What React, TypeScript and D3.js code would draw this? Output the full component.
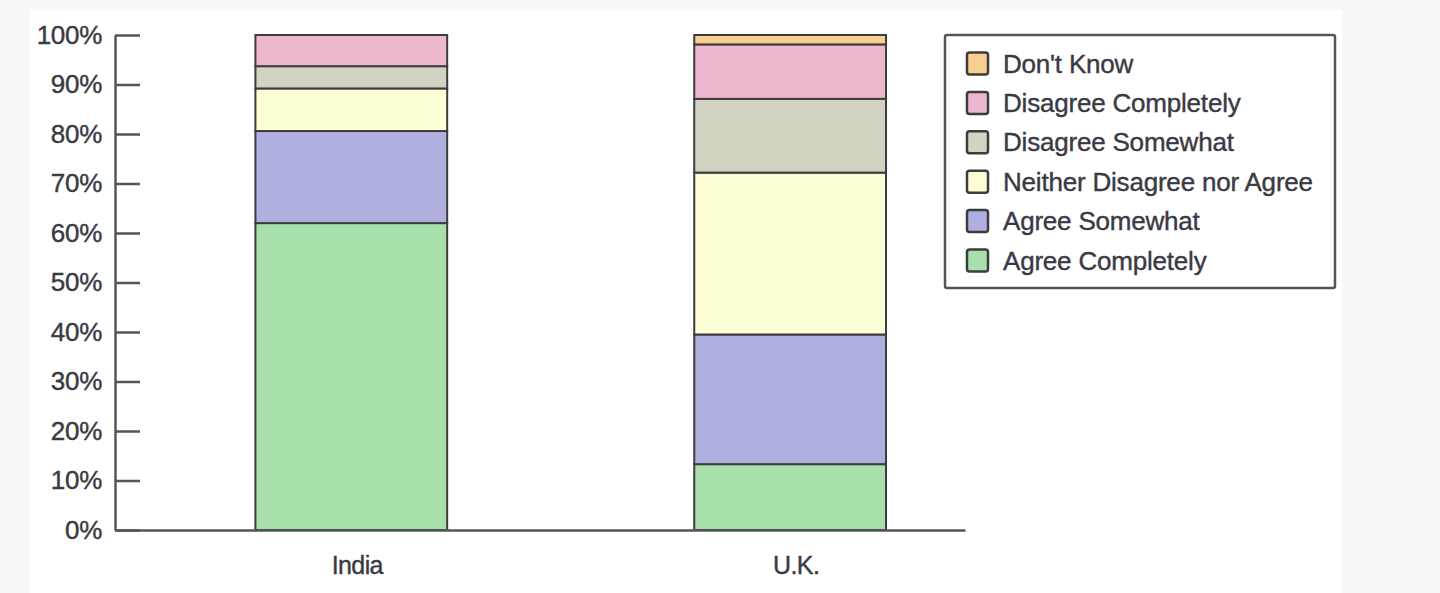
import React, { useEffect, useRef } from "react"
import * as d3 from "d3"

const countries = ["India", "U.K."]
const responses = [
  "Agree Completely",
  "Agree Somewhat",
  "Neither Disagree nor Agree",
  "Disagree Somewhat",
  "Disagree Completely",
  "Don't Know",
]
const indiaValues = [62, 18.6, 8.6, 4.5, 6.3, 0]
const ukValues = [13.3, 26.2, 32.7, 14.9, 11.0, 1.9]
const colors = ["#a8e0ac", "#b0b0e0", "#fdfdd6", "#d3d3c3", "#edb8cf", "#f8cf90"]
const yTicks = [0, 10, 20, 30, 40, 50, 60, 70, 80, 90, 100]

export default function App() {
  const ref = useRef<SVGSVGElement>(null)

  useEffect(() => {
    const svg = d3.select(ref.current)
    svg.selectAll("*").remove()

    const width = 1440
    const height = 593
    const margin = { top: 35, right: 475, bottom: 63, left: 115 }
    const font = "'Liberation Sans', Arial, sans-serif"
    const ink = "#3a3a44"

    svg.attr("width", width).attr("height", height)

    svg.append("rect").attr("width", width).attr("height", height).attr("fill", "#f8f8f8")
    svg.append("rect").attr("x", 30).attr("y", 10).attr("width", 1312).attr("height", height - 10).attr("fill", "#fff")

    const table = countries.map((c, i) => {
      const row: any = { country: c }
      const vals = i === 0 ? indiaValues : ukValues
      responses.forEach((r, j) => (row[r] = vals[j]))
      return row
    })
    const series = d3.stack().keys(responses)(table)

    const x = d3.scaleBand()
      .domain(countries)
      .range([margin.left, width - margin.right])
      .paddingInner(0.563)
      .paddingOuter(0.25)
      .align(0.64)

    const y = d3.scaleLinear()
      .domain([0, 100])
      .range([height - margin.bottom, margin.top])

    const color = d3.scaleOrdinal<string>().domain(responses).range(colors)

    // stacked bars
    svg.append("g")
      .selectAll("g")
      .data(series)
      .join("g")
      .attr("fill", d => color(d.key))
      .selectAll("rect")
      .data(d => d.filter(s => s[1] - s[0] > 0))
      .join("rect")
      .attr("x", d => x((d.data as any).country)!)
      .attr("y", d => y(d[1]))
      .attr("width", x.bandwidth())
      .attr("height", d => y(d[0]) - y(d[1]))
      .attr("stroke", "#3c3c3c")
      .attr("stroke-width", 2)

    // y axis
    const yAxis = svg.append("g")
      .attr("transform", `translate(${margin.left},0)`)
      .call(d3.axisLeft(y).tickValues(yTicks).tickSizeInner(-25).tickSizeOuter(0).tickPadding(13).tickFormat(d => `${d}%`))
    yAxis.selectAll("path, line").attr("stroke", "#555").attr("stroke-width", 2.5)
    yAxis.selectAll("text")
      .attr("font-family", font)
      .attr("font-size", 26)
      .attr("letter-spacing", -0.3)
      .attr("fill", ink)
      .attr("stroke", ink)
      .attr("stroke-width", 0.4)

    // x axis
    const xAxis = svg.append("g")
      .attr("transform", `translate(0,${height - margin.bottom})`)
      .call(d3.axisBottom(x).tickSize(0).tickPadding(26))
    xAxis.selectAll("path").attr("stroke", "#555").attr("stroke-width", 2.5)
    xAxis.selectAll("text")
      .attr("font-family", font)
      .attr("font-size", 25)
      .attr("letter-spacing", -0.6)
      .attr("fill", ink)
      .attr("stroke", ink)
      .attr("stroke-width", 0.4)
      .attr("dx", 6)

    // legend
    const legend = svg.append("g")
    legend.append("rect")
      .attr("x", 945).attr("y", 35).attr("width", 390).attr("height", 253)
      .attr("fill", "#fff").attr("stroke", "#555").attr("stroke-width", 2.5).attr("rx", 2)

    const items = legend.selectAll("g.item")
      .data(responses.slice().reverse())
      .join("g")
      .attr("class", "item")
      .attr("transform", (d, i) => `translate(967,${63.5 + i * 39.4})`)

    items.append("rect")
      .attr("x", 0).attr("y", -11).attr("width", 21).attr("height", 22).attr("rx", 2.5)
      .attr("fill", d => color(d)).attr("stroke", "#3c3c3c").attr("stroke-width", 2.5)

    items.append("text")
      .attr("x", 36).attr("y", 9)
      .attr("font-family", font)
      .attr("font-size", 26)
      .attr("letter-spacing", -0.2)
      .attr("fill", ink)
      .attr("stroke", ink)
      .attr("stroke-width", 0.4)
      .text(d => d)
  }, [])

  return <svg ref={ref} style={{ position: "absolute", left: 0, top: 0 }} />
}
